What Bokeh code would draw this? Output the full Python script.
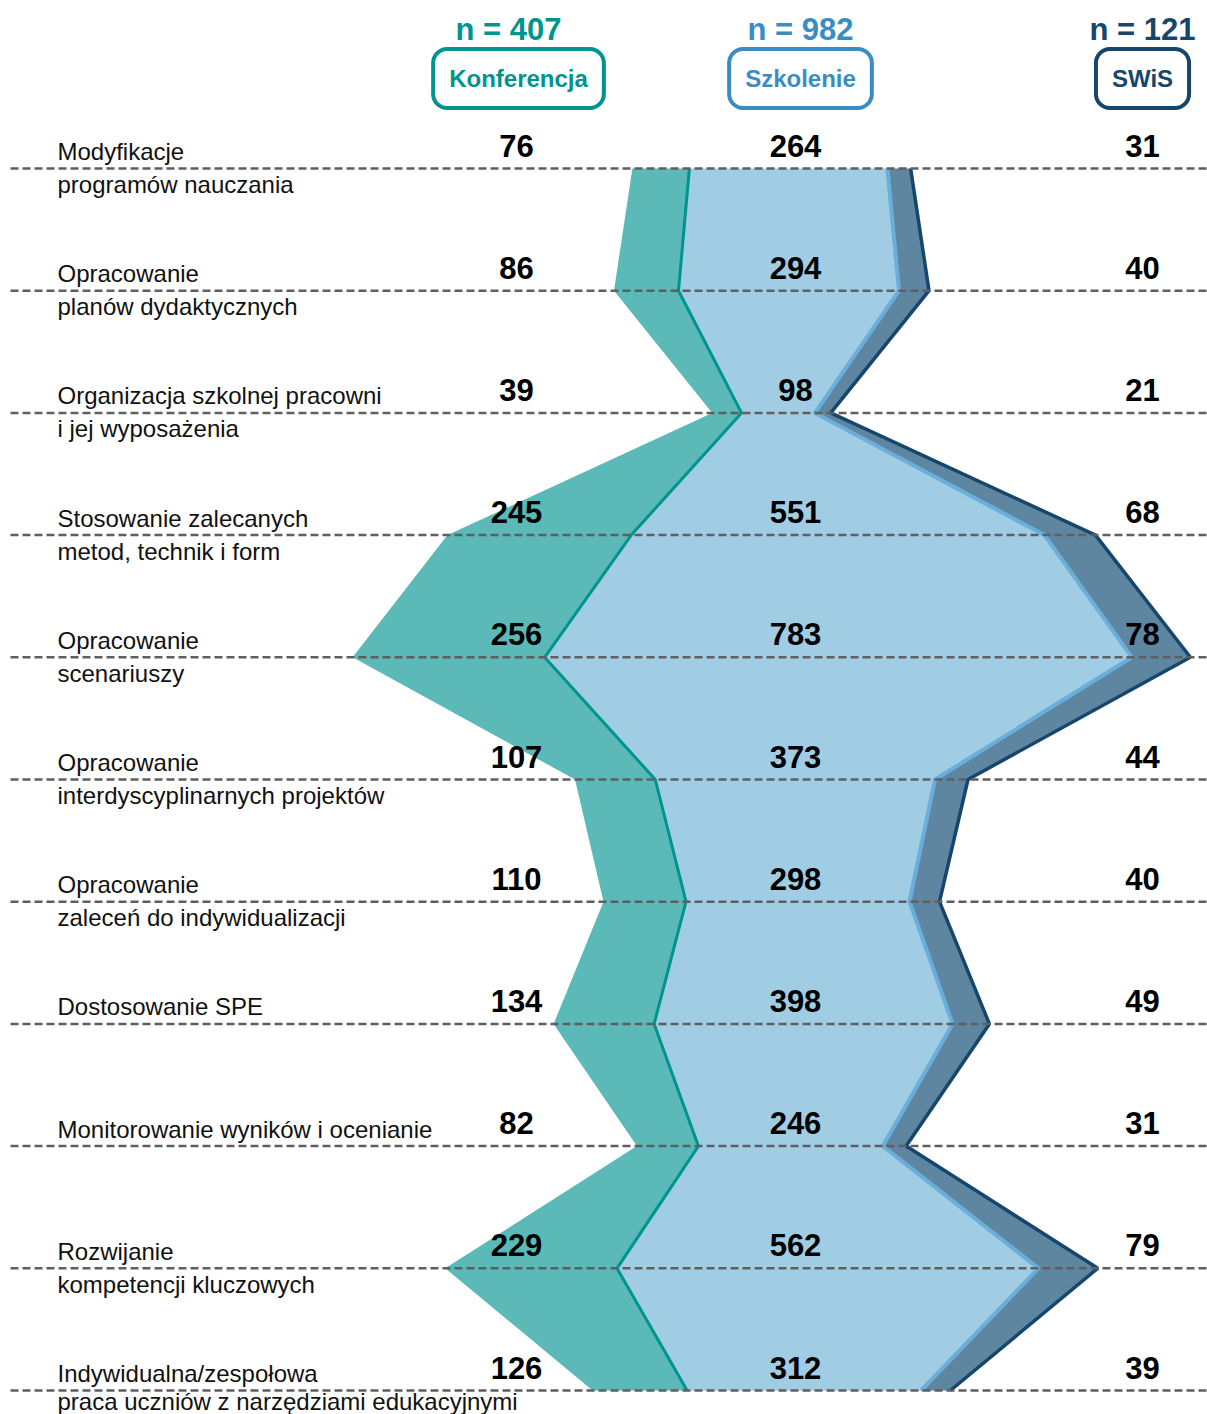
from bokeh.plotting import figure
from bokeh.models import ColumnDataSource, Range1d, Label
from bokeh.core.properties import value
from bokeh.embed import file_html
from bokeh.resources import INLINE

# ---------------- data ----------------
label_line1 = ["Modyfikacje", "Opracowanie", "Organizacja szkolnej pracowni",
               "Stosowanie zalecanych", "Opracowanie", "Opracowanie",
               "Opracowanie", "Dostosowanie SPE",
               "Monitorowanie wyników i ocenianie", "Rozwijanie",
               "Indywidualna/zespołowa"]
label_line2 = ["programów nauczania", "planów dydaktycznych", "i jej wyposażenia",
               "metod, technik i form", "scenariuszy",
               "interdyscyplinarnych projektów", "zaleceń do indywidualizacji",
               "", "", "kompetencji kluczowych",
               "praca uczniów z narzędziami edukacyjnymi"]
konferencja = [76, 86, 39, 245, 256, 107, 110, 134, 82, 229, 126]
szkolenie = [264, 294, 98, 551, 783, 373, 298, 398, 246, 562, 312]
swis = [31, 40, 21, 68, 78, 44, 40, 49, 31, 79, 39]
group_names = ["Konferencja", "Szkolenie", "SWiS"]
group_n = [407, 982, 121]

# ---------------- layout ----------------
W, H = 1207, 1414
X_CENTER_PX = 771
PX_PER_UNIT = 0.75
Y0_PX = 168
ROW_PX = 122.2

x_start = -X_CENTER_PX / PX_PER_UNIT
x_end = (W - X_CENTER_PX) / PX_PER_UNIT
y_top = -Y0_PX / ROW_PX
y_bottom = (H - Y0_PX) / ROW_PX


def px2x(px):
    return x_start + px / PX_PER_UNIT


def px2y(py):
    return y_top + py / ROW_PX


FONT = value("Liberation Sans")
TEAL_FILL = "#5bb9b8"
TEAL_LINE = "#00948f"
BLUE_FILL = "#a0cde4"
BLUE_LINE = "#6aaedb"
NAVY_FILL = "#5e86a0"
NAVY_LINE = "#16466c"
HEAD_COLORS = ["#00948f", "#3a8dc3", "#16466c"]

p = figure(width=W, height=H, x_range=Range1d(x_start, x_end),
           y_range=Range1d(y_bottom, y_top), output_backend="svg",
           toolbar_location=None, x_axis_type=None, y_axis_type=None,
           min_border=0)
p.grid.visible = False
p.outline_line_color = None
p.background_fill_color = "white"
p.border_fill_color = "white"

rows = list(range(len(konferencja)))
L0, L1, L2, L3 = [], [], [], []
for k, s, w in zip(konferencja, szkolenie, swis):
    t = k + s + w
    a = -t / 2
    L0.append(a)
    L1.append(a + k)
    L2.append(a + k + s)
    L3.append(a + k + s + w)

src = ColumnDataSource(dict(row=rows, L0=L0, L1=L1, L2=L2, L3=L3))

p.harea(x1="L0", x2="L1", y="row", fill_color=TEAL_FILL, source=src)
p.harea(x1="L1", x2="L2", y="row", fill_color=BLUE_FILL, source=src)
p.harea(x1="L2", x2="L3", y="row", fill_color=NAVY_FILL, source=src)
p.line(x="L1", y="row", line_color=TEAL_LINE, line_width=3, source=src)
p.line(x="L2", y="row", line_color=BLUE_LINE, line_width=4, source=src)
p.line(x="L3", y="row", line_color=NAVY_LINE, line_width=3.5, source=src)

# dashed guide lines
p.segment(x0=[px2x(10)] * len(rows), x1=[x_end] * len(rows), y0=rows, y1=rows,
          line_color="#5f5f5f", line_width=2.5, line_dash="8 4")

# category labels
p.text(x=[px2x(57)] * len(rows), y=[r - 17 / ROW_PX for r in rows],
       text=label_line1, text_font=FONT, text_font_size="24px",
       text_color="#111111", text_align="left", text_baseline="middle")
line2_y = [r + 16 / ROW_PX for r in rows]
line2_y[-1] = rows[-1] + 11 / ROW_PX
p.text(x=[px2x(57)] * len(rows), y=line2_y,
       text=label_line2, text_font=FONT, text_font_size="24px",
       text_color="#111111", text_align="left", text_baseline="middle")

# values
col_px = [516, 795, 1142]
for series, cx in zip([konferencja, szkolenie, swis], col_px):
    p.text(x=[px2x(cx)] * len(rows), y=[r - 23 / ROW_PX for r in rows],
           text=[str(v) for v in series], text_font=FONT,
           text_font_size="31px", text_font_style="bold", text_color="black",
           text_align="center", text_baseline="middle")

# header
head_n_px = [508, 800, 1142]
box_px = [518, 800, 1142]
for name, n, c, hx, bx in zip(group_names, group_n, HEAD_COLORS, head_n_px, box_px):
    p.add_layout(Label(x=px2x(hx), y=px2y(29), text=f"n = {n}",
                       text_font="Liberation Sans", text_font_size="31px",
                       text_font_style="bold", text_color=c,
                       text_align="center", text_baseline="middle"))
    p.add_layout(Label(x=px2x(bx), y=px2y(78), text=name,
                       text_font="Liberation Sans", text_font_size="24px",
                       text_font_style="bold", text_color=c,
                       text_align="center", text_baseline="middle",
                       border_line_color=c, border_line_width=4,
                       border_radius=14, padding=16,
                       background_fill_color="white"))

open("out.html", "w").write(file_html(p, INLINE))
